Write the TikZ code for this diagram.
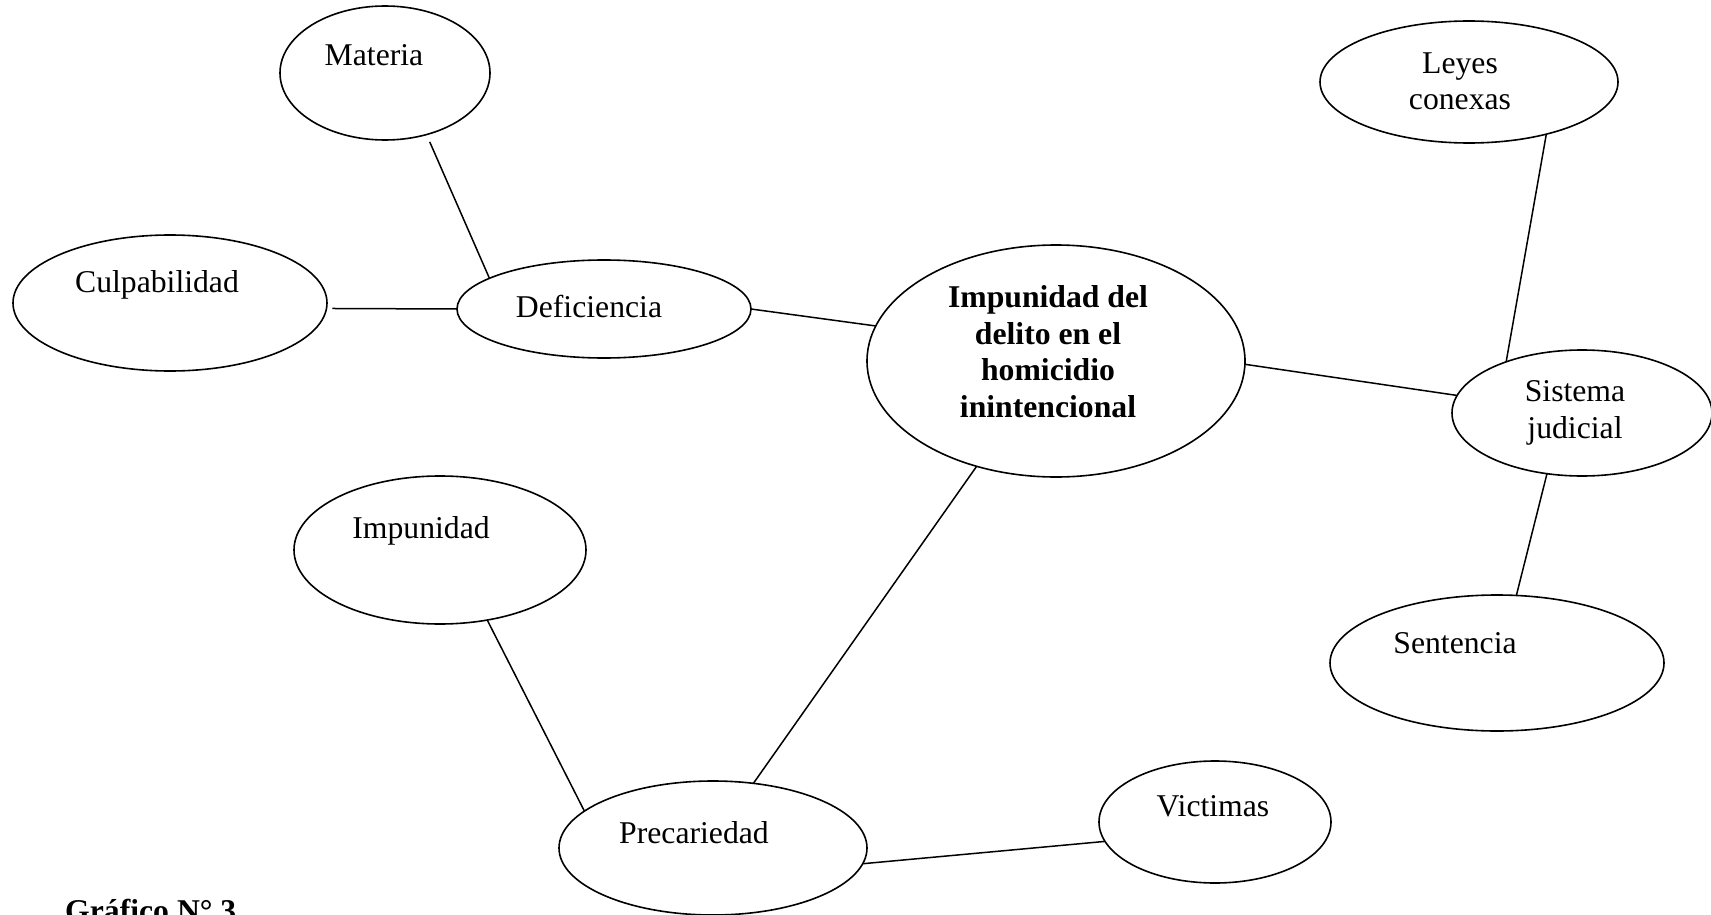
\documentclass[tikz,border=0pt]{standalone}
\usepackage{fontspec}
\setmainfont{Liberation Serif}
\usetikzlibrary{shapes.geometric}
\tikzset{
  oval/.style={draw, ellipse, line width=1.6pt, inner sep=0pt, outer sep=0pt},
  lbl/.style={anchor=base, inner sep=0pt, font=\fontsize{31.7}{36.5}\selectfont},
  link/.style={line width=1.5pt}
}
\begin{document}
\begin{tikzpicture}[x=1pt,y=-1pt]
\useasboundingbox (0,0) rectangle (1711,915);
% ellipses
\node[oval, minimum width=210pt, minimum height=134pt] (mat) at (385,73) {};
\node[oval, minimum width=314pt, minimum height=136pt] (cul) at (170,303) {};
\node[oval, minimum width=294pt, minimum height=98pt] (def) at (604,309) {};
\node[oval, minimum width=378pt, minimum height=232pt] (cen) at (1056,361) {};
\node[oval, minimum width=298pt, minimum height=122pt] (ley) at (1469,82) {};
\node[oval, minimum width=260pt, minimum height=126pt] (sis) at (1582,413) {};
\node[oval, minimum width=334pt, minimum height=136pt] (sen) at (1497,663) {};
\node[oval, minimum width=292pt, minimum height=148pt] (imp) at (440,550) {};
\node[oval, minimum width=308pt, minimum height=134pt] (pre) at (713,848) {};
\node[oval, minimum width=232pt, minimum height=122pt] (vic) at (1215,822) {};
% labels
\node[lbl] (tmat) at (374,66) {Materia};
\node[lbl] (tcul) at (157,292) {Culpabilidad};
\node[lbl] (tdef) at (589,317) {Deficiencia};
\node[lbl, align=center, font=\fontsize{31.7}{36.5}\selectfont\bfseries] (tcen) at (1048,417)
  {Impunidad del\\delito en el\\homicidio\\inintencional};
\node[lbl, align=center] (tley) at (1460,110) {Leyes\\conexas};
\node[lbl, align=center] (tsis) at (1575,438) {Sistema\\judicial};
\node[lbl] (tsen) at (1455,653) {Sentencia};
\node[lbl] (timp) at (421,538) {Impunidad};
\node[lbl] (tpre) at (694,843) {Precariedad};
\node[lbl] (tvic) at (1213,816) {Victimas};
\node[anchor=base west, inner sep=0pt, font=\fontsize{31.7}{36.5}\selectfont\bfseries] (cap) at (65,921) {Gráfico N° 3};
% connectors
\draw[link, shorten <=8pt] (mat.-56) -- (def.165);
\draw[link, shorten <=6pt] (cul.-2) -- (def.180);
\draw[link] (def.0) -- (cen.169);
\draw[link] (cen.-1) -- (sis.172);
\draw[link] (ley.-34) -- (sis.146);
\draw[link] (sis.240) -- (sen.74);
\draw[link] (cen.233) -- (pre.58);
\draw[link] (imp.-56) -- (pre.164);
\draw[link] (pre.-6) -- (vic.190);
\end{tikzpicture}
\end{document}
